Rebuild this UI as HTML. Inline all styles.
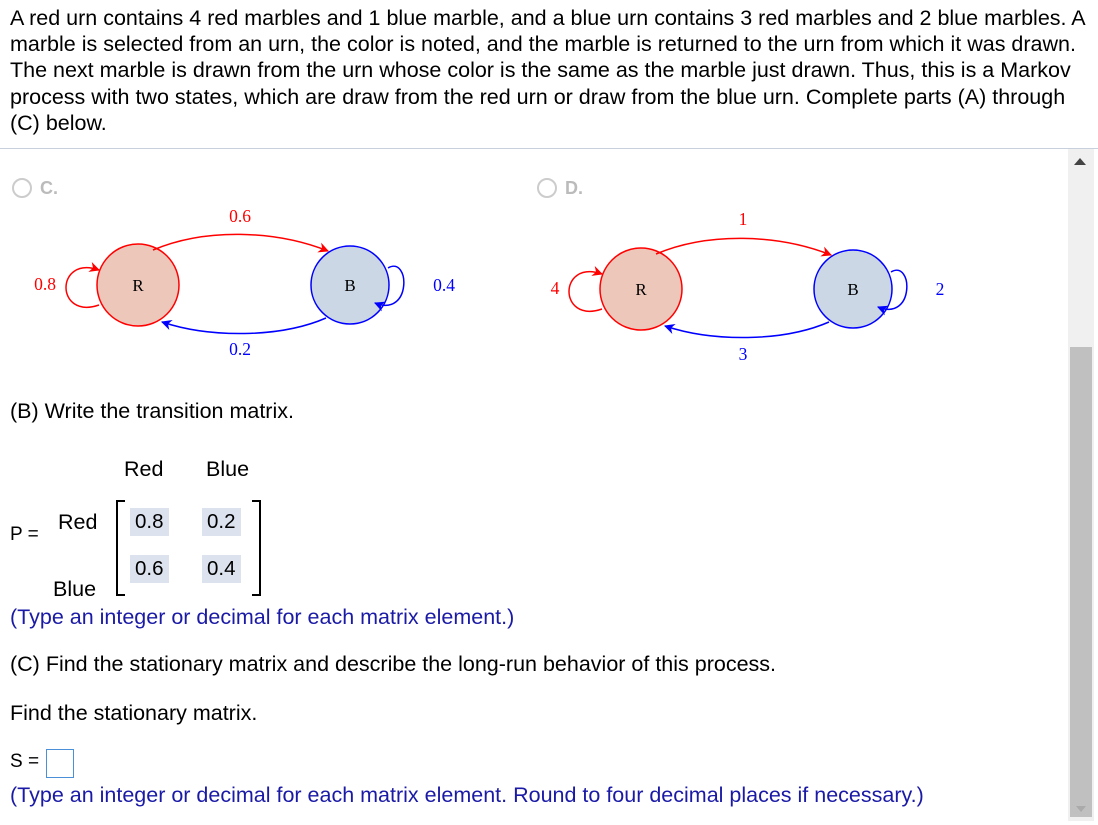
<!DOCTYPE html>
<html><head><style>
body{margin:0;width:1098px;height:825px;overflow:hidden;background:#fff;font-family:"Liberation Sans",Arial,sans-serif;position:relative}
.t{position:absolute;white-space:nowrap;color:#000;font-size:21.5px}
.q{left:10px;top:5px;font-size:21.5px;line-height:26.2px;position:absolute;width:1090px;white-space:nowrap}
.blue{color:#1a1aa6}
.cell{position:absolute;background:#dce3ee;font-size:20.5px;padding:0 5px;line-height:28px}
</style></head><body>
<div class="q">A red urn contains 4 red marbles and 1 blue marble, and a blue urn contains 3 red marbles and 2 blue marbles. A<br>marble is selected from an urn, the color is noted, and the marble is returned to the urn from which it was drawn.<br>The next marble is drawn from the urn whose color is the same as the marble just drawn. Thus, this is a Markov<br>process with two states, which are draw from the red urn or draw from the blue urn. Complete parts (A) through<br>(C) below.</div>
<div style="position:absolute;left:0;top:148px;width:1098px;height:1px;background:#c8d0de"></div>
<div style="position:absolute;left:1068px;top:149px;width:26px;height:672px;background:#f0f0f0"></div>
<div style="position:absolute;left:1070px;top:347px;width:22px;height:470px;background:#c0c0c0"></div>
<div style="position:absolute;left:1074px;top:158px;width:0;height:0;border-left:6px solid transparent;border-right:6px solid transparent;border-bottom:7px solid #444"></div>
<div style="position:absolute;left:1076px;top:806px;width:0;height:0;border-left:5px solid transparent;border-right:5px solid transparent;border-top:6px solid #aaa"></div>

<svg width="1098" height="400" style="position:absolute;left:0;top:0" font-family="Liberation Serif,serif">
<defs>
<marker id="ar" viewBox="0 0 10 10" refX="9" refY="5" markerWidth="7" markerHeight="7" orient="auto"><path d="M0,0L10,5L0,10L3,5z" fill="red"/></marker>
<marker id="ab" viewBox="0 0 10 10" refX="9" refY="5" markerWidth="7" markerHeight="7" orient="auto"><path d="M0,0L10,5L0,10L3,5z" fill="blue"/></marker>
</defs>
<circle cx="22" cy="188" r="9" fill="none" stroke="#ccc" stroke-width="2"/>
<text x="40" y="194" font-family="Liberation Sans" font-weight="bold" font-size="18" fill="#bbb">C.</text>
<circle cx="547" cy="188" r="9" fill="none" stroke="#ccc" stroke-width="2"/>
<text x="565" y="194" font-family="Liberation Sans" font-weight="bold" font-size="18" fill="#bbb">D.</text>
<g id="g">
<circle cx="138" cy="285" r="41" fill="#eec7bb" stroke="red" stroke-width="1.5"/>
<circle cx="350" cy="285" r="39" fill="#cbd7e4" stroke="blue" stroke-width="1.5"/>
<path d="M153,250 C205,228 275,230 328,251" fill="none" stroke="red" stroke-width="1.5" marker-end="url(#ar)"/>
<path d="M326,318 C280,338 210,338 162,322" fill="none" stroke="blue" stroke-width="1.5" marker-end="url(#ab)"/>
<path d="M99,305 C55,320 55,255 99,270" fill="none" stroke="red" stroke-width="1.5" marker-end="url(#ar)"/>
<path d="M388,268 C410,255 412,318 375,303" fill="none" stroke="blue" stroke-width="1.5" marker-end="url(#ab)"/>
<text x="138" y="291" text-anchor="middle" font-size="17">R</text>
<text x="350" y="291" text-anchor="middle" font-size="17">B</text>
</g>
<text x="240" y="222" text-anchor="middle" font-size="17.5" fill="red">0.6</text>
<text x="240" y="355" text-anchor="middle" font-size="17.5" fill="blue">0.2</text>
<text x="45" y="290" text-anchor="middle" font-size="17.5" fill="red">0.8</text>
<text x="444" y="291" text-anchor="middle" font-size="17.5" fill="blue">0.4</text>
<g transform="translate(503,4)"><use href="#g"/></g>
<text x="743" y="225" text-anchor="middle" font-size="17.5" fill="red">1</text>
<text x="743" y="360" text-anchor="middle" font-size="17.5" fill="blue">3</text>
<text x="555" y="294" text-anchor="middle" font-size="17.5" fill="red">4</text>
<text x="940" y="295" text-anchor="middle" font-size="17.5" fill="blue">2</text>
</svg>

<div class="t" style="left:10px;top:399px">(B) Write the transition matrix.</div>
<div class="t" style="left:124px;top:457px">Red</div>
<div class="t" style="left:206px;top:457px">Blue</div>
<div class="t" style="left:10px;top:524px;font-size:19px">P =</div>
<div class="t" style="left:58px;top:510px">Red</div>
<div class="t" style="left:53px;top:577px">Blue</div>
<div style="position:absolute;left:116px;top:500px;width:7px;height:92px;border:2px solid #000;border-right:none"></div>
<div style="position:absolute;left:252px;top:500px;width:7px;height:92px;border:2px solid #000;border-left:none"></div>
<div class="cell" style="left:130px;top:508px">0.8</div>
<div class="cell" style="left:202px;top:508px">0.2</div>
<div class="cell" style="left:130px;top:555px">0.6</div>
<div class="cell" style="left:202px;top:555px">0.4</div>
<div class="t blue" style="left:10px;top:605px">(Type an integer or decimal for each matrix element.)</div>
<div class="t" style="left:10px;top:652px">(C) Find the stationary matrix and describe the long-run behavior of this process.</div>
<div class="t" style="left:10px;top:701px">Find the stationary matrix.</div>
<div class="t" style="left:10px;top:751px;font-size:19px">S =</div>
<div style="position:absolute;left:46px;top:749px;width:26px;height:27px;border:1px solid #4a90d9"></div>
<div class="t blue" style="left:10px;top:783px">(Type an integer or decimal for each matrix element. Round to four decimal places if necessary.)</div>
</body></html>
